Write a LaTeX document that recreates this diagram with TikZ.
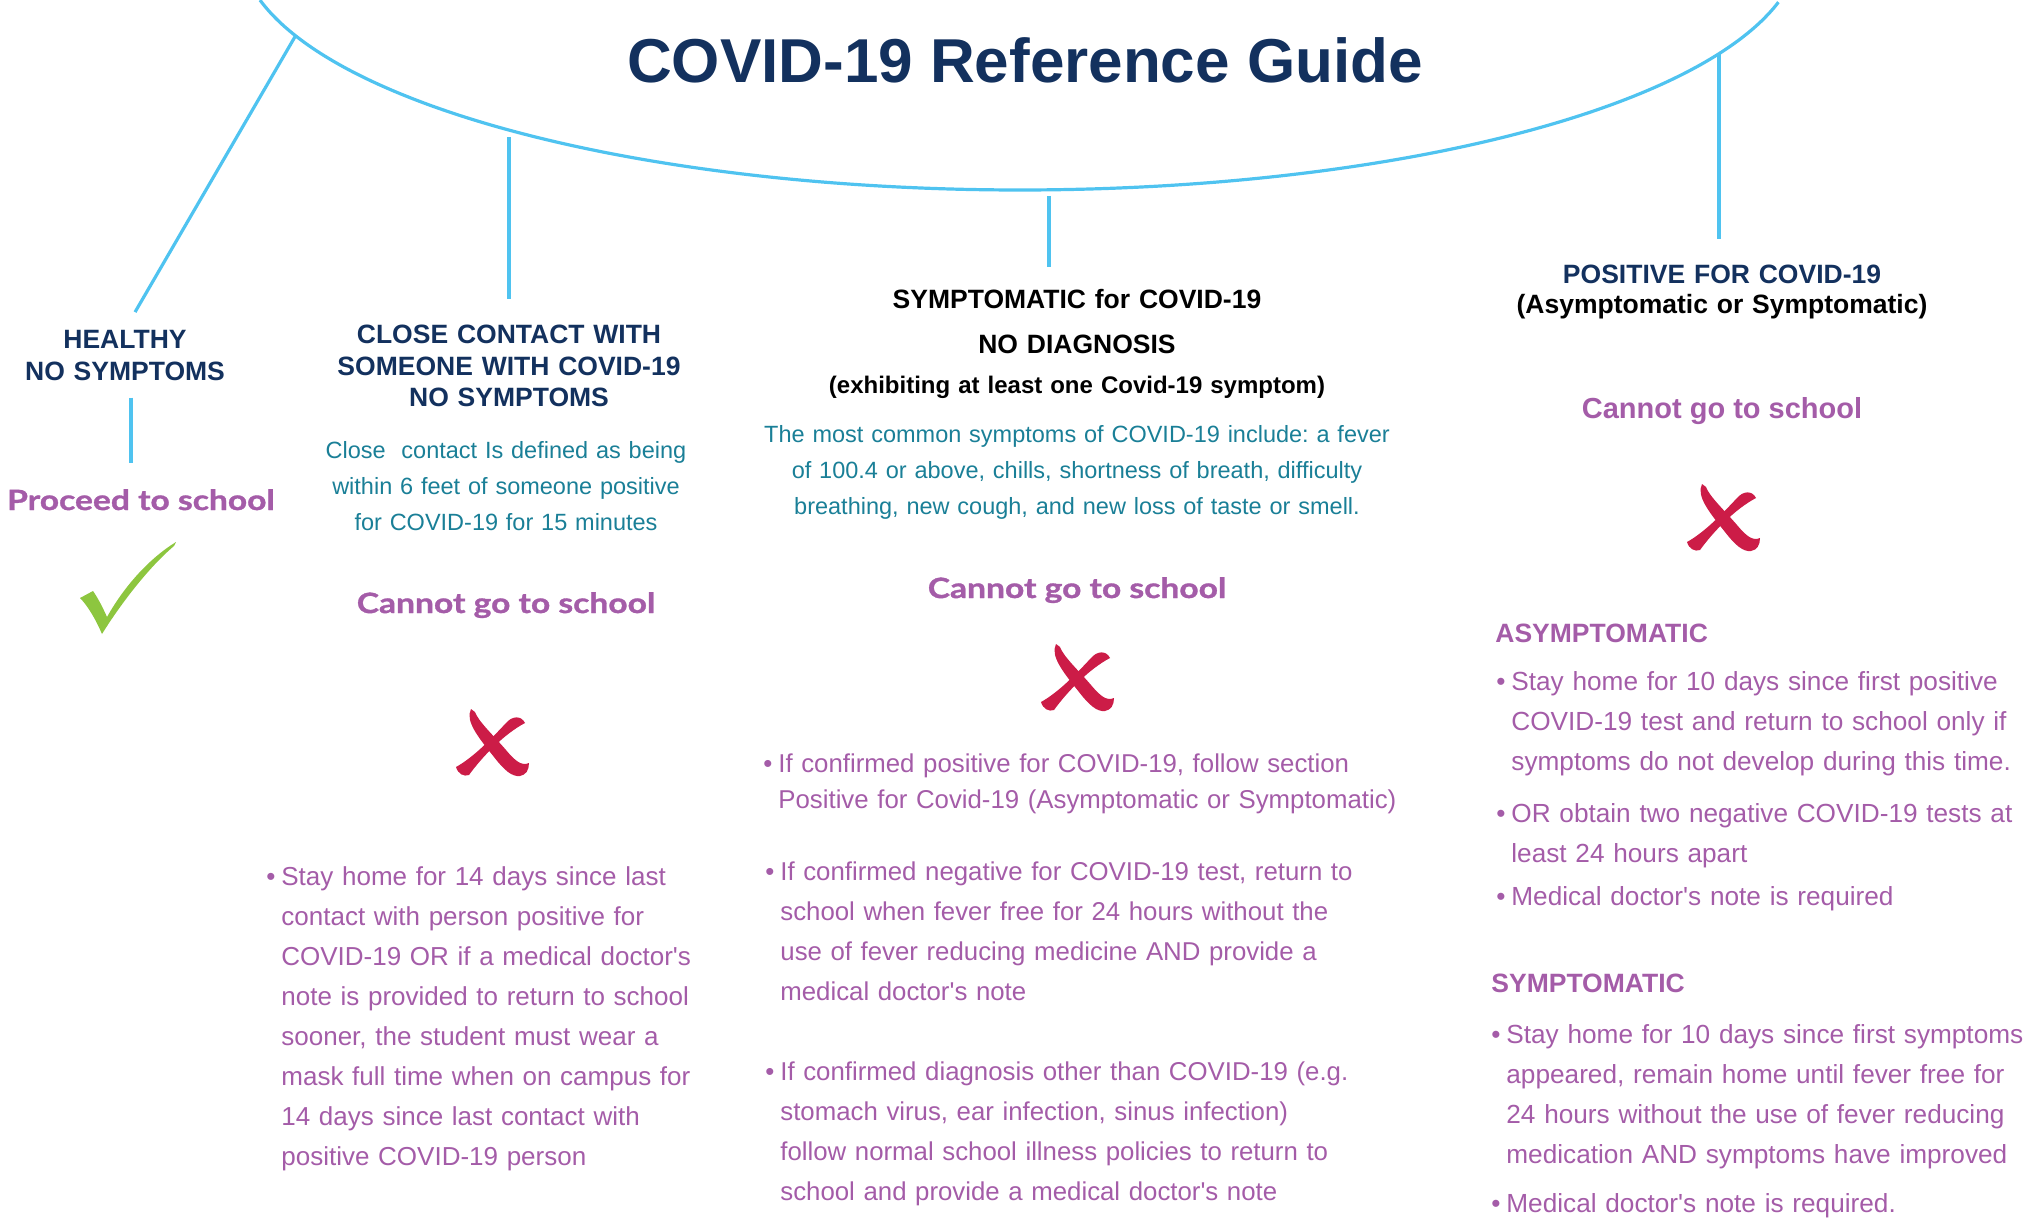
\documentclass[tikz,border=0pt]{standalone}
\usepackage{fontspec}
\setmainfont{Liberation Sans}
\newfontfamily\latofont[FakeStretch=1.2,BoldFeatures={FakeBold=1.2}]{Lato}
\usetikzlibrary{positioning}
\definecolor{guidenavy}{HTML}{13315E}
\definecolor{guideteal}{HTML}{1A7F97}
\definecolor{guidepurple}{HTML}{A45CA8}
\definecolor{guidered}{HTML}{CC1C47}
\definecolor{guidegreen}{HTML}{8DC63F}
\definecolor{guideblue}{HTML}{4FC3F0}
\frenchspacing

\begin{document}
\begin{tikzpicture}[
  x=0.5pt, y=-0.5pt,
  head/.style={font=\bfseries\fontsize{13.25}{16}\selectfont,text=guidenavy,
    align=center,text width=230pt,inner sep=0pt,anchor=base},
  note/.style={font=\fontsize{11.75}{18}\selectfont,text=guideteal,
    align=center,text width=340pt,inner sep=0pt,anchor=base},
  cannot/.style={font=\latofont\bfseries\fontsize{14}{16}\selectfont,
    text=guidepurple,inner sep=0pt,anchor=base},
  listtext/.style={font=\fontsize{13}{20}\selectfont,text=guidepurple,
    align=left,text width=320pt,inner sep=0pt,anchor=base west},
  sub/.style={font=\bfseries\fontsize{13.25}{16}\selectfont,
    text=guidepurple,inner sep=0pt,anchor=base west},
  branch/.style={draw=guideblue,line width=1.6pt},
  cross/.pic={
    \fill[guidered] (-21,-34) .. controls (-27,-22) and (-14,-6) .. (2,14)
      .. controls (12,27) and (20,34) .. (28,33)
      .. controls (34,32) and (37,27) .. (37,20)
      .. controls (30,23) and (24,19) .. (14,7)
      .. controls (2,-7) and (-14,-22) .. (-17,-31) -- cycle;
    \fill[guidered] (33,-20) .. controls (29,-28) and (20,-27) .. (14,-20)
      .. controls (0,-5) and (-18,14) .. (-36,24)
      .. controls (-34,31) and (-28,34) .. (-23,32)
      .. controls (-10,14) and (12,-9) .. (33,-20) -- cycle;
  },
  tick/.pic={
    \fill[guidegreen] (-48,10) -- (-35,3) .. controls (-30,10) and (-25,20) .. (-21,29)
      .. controls (-3,-3) and (22,-30) .. (48,-46) -- (46,-42)
      .. controls (20,-20) and (-8,17) .. (-26,46)
      .. controls (-32,32) and (-40,18) .. (-48,10) -- cycle;
  }
]
\useasboundingbox (0,0) rectangle (2038,1225);

% title and the big curve
\node[font=\bfseries\fontsize{31}{36}\selectfont,text=guidenavy,anchor=base,inner sep=0pt]
  (title) at (1025,83) {COVID-19 Reference Guide};
\draw[branch] plot[domain=167:13.5,samples=100,smooth]
  ({1020+780*cos(\x)},{-55+245*sin(\x)});
\coordinate (a1) at (296,35);
\coordinate (a2) at (509,137);
\coordinate (a3) at (1049,196);
\coordinate (a4) at (1719,53);

% headers
\node[head] (healthy) at (125,348) {HEALTHY\\NO SYMPTOMS};
\node[head] (contact) at (509,343) {CLOSE CONTACT WITH\\SOMEONE WITH COVID-19\\NO SYMPTOMS};
\node[head,text=black,font=\bfseries\fontsize{13.25}{22.5}\selectfont] (symhead) at (1077,308)
  {SYMPTOMATIC for COVID-19\\NO DIAGNOSIS};
\node[head,text=black,font=\bfseries\fontsize{12}{14}\selectfont,text width=300pt] (symnote) at (1077,393)
  {(exhibiting at least one Covid-19 symptom)};
\node[head,font=\bfseries\fontsize{13.25}{15}\selectfont] (poshead) at (1722,283)
  {POSITIVE FOR COVID-19\\\textcolor{black}{(Asymptomatic or Symptomatic)}};

% healthy column
\node[cannot] (proceed) at (141,510) {Proceed to school};
\pic at (128,588) {tick};

% close contact column
\node[note] (closedef) at (506,458)
  {Close~ contact Is defined as being\\within 6 feet of someone positive\\for COVID-19 for 15 minutes};
\node[cannot] (cannot2) at (506,613) {Cannot go to school};
\pic at (492,743) {cross};
\node[listtext] (stay14) at (281,885)
  {\llap{\textbullet\hspace{3pt}}Stay home for 14 days since last\\contact with person positive for\\
   COVID-19 OR if a medical doctor\textquotesingle s\\note is provided to return to school\\
   sooner, the student must wear a\\mask full time when on campus for\\
   14 days since last contact with\\positive COVID-19 person};

% symptomatic column
\node[note] (symdesc) at (1077,442)
  {The most common symptoms of COVID-19 include: a fever\\
   of 100.4 or above, chills, shortness of breath, difficulty\\
   breathing, new cough, and new loss of taste or smell.};
\node[cannot] (cannot3) at (1077,598) {Cannot go to school};
\pic at (1077,678) {cross};
\node[listtext,font=\fontsize{12.9}{18}\selectfont] (confpos) at (778,772)
  {\llap{\textbullet\hspace{3pt}}If confirmed positive for COVID-19, follow section\\
   Positive for Covid-19 (Asymptomatic or Symptomatic)};
\node[listtext,font=\fontsize{12.9}{20}\selectfont] (confneg) at (780,880)
  {\llap{\textbullet\hspace{3pt}}If confirmed negative for COVID-19 test, return to\\
   school when fever free for 24 hours without the\\
   use of fever reducing medicine AND provide a\\medical doctor\textquotesingle s note};
\node[listtext,font=\fontsize{12.9}{20}\selectfont] (confother) at (780,1080)
  {\llap{\textbullet\hspace{3pt}}If confirmed diagnosis other than COVID-19 (e.g.\\
   stomach virus, ear infection, sinus infection)\\
   follow normal school illness policies to return to\\
   school and provide a medical doctor\textquotesingle s note};

% positive column
\node[cannot,font=\bfseries\fontsize{14.5}{16}\selectfont] (cannot4) at (1722,418) {Cannot go to school};
\pic at (1723,518) {cross};
\node[sub] (asym) at (1495,642) {ASYMPTOMATIC};
\node[listtext,font=\fontsize{13.1}{20}\selectfont] (asym1) at (1511,690)
  {\llap{\textbullet\hspace{3pt}}Stay home for 10 days since first positive\\
   COVID-19 test and return to school only if\\
   symptoms do not develop during this time.};
\node[listtext,font=\fontsize{13.1}{20}\selectfont] (asym2) at (1511,822)
  {\llap{\textbullet\hspace{3pt}}OR obtain two negative COVID-19 tests at\\least 24 hours apart};
\node[listtext,font=\fontsize{13.1}{20}\selectfont] (asym3) at (1511,905)
  {\llap{\textbullet\hspace{3pt}}Medical doctor\textquotesingle s note is required};
\node[sub] (sym) at (1491,992) {SYMPTOMATIC};
\node[listtext,font=\fontsize{13.1}{20}\selectfont] (sym1) at (1506,1043)
  {\llap{\textbullet\hspace{3pt}}Stay home for 10 days since first symptoms\\
   appeared, remain home until fever free for\\
   24 hours without the use of fever reducing\\
   medication AND symptoms have improved};
\node[listtext,font=\fontsize{13.1}{20}\selectfont] (sym2) at (1506,1212)
  {\llap{\textbullet\hspace{3pt}}Medical doctor\textquotesingle s note is required.};

% branches
\draw[branch,shorten >=10pt] (a1) -- (healthy.north);
\draw[branch,shorten >=12.5pt] (a2) -- (a2 |- contact.north);
\draw[branch,shorten >=10.5pt] (a3) -- (a3 |- symhead.north);
\draw[branch,shorten >=12.5pt] (a4) -- (a4 |- poshead.north);
\draw[branch,shorten <=8.5pt,shorten >=13pt]
  ([xshift=3pt]healthy.south) -- ([xshift=3pt]healthy.south |- proceed.north);
\end{tikzpicture}
\end{document}
